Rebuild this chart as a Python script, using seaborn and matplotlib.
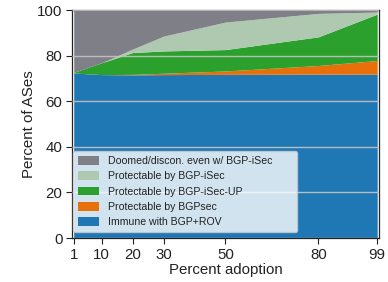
import matplotlib
matplotlib.use("Agg")
import matplotlib.pyplot as plt
import seaborn as sns

# percent adoption
adoption = [1, 10, 20, 30, 50, 80, 99]
xtick_labels = ["1", "10", "20", "30", "50", "80", "99"]

# stacked layers (percent of ASes), bottom to top
immune = [72.5, 71.8, 71.7, 71.8, 71.9, 72.0, 72.0]
bgpsec = [0.0, 0.0, 0.2, 0.6, 1.5, 3.8, 6.0]
isec_up = [0.3, 5.2, 9.6, 9.8, 9.4, 12.6, 20.4]
isec = [0.0, 0.0, 1.5, 6.5, 12.1, 10.3, 0.9]
doomed = [27.2, 23.0, 17.0, 11.3, 5.1, 1.3, 0.7]

labels = ["Immune with BGP+ROV", "Protectable by BGPsec", "Protectable by BGP-iSec-UP",
          "Protectable by BGP-iSec", "Doomed/discon. even w/ BGP-iSec"]
colors = ["#1f77b4", "#e8700a", "#2ca02c", "#afc8b0", "#7f7f88"]

sns.set_theme(style="ticks")
plt.rcParams["font.family"] = ["Liberation Sans", "DejaVu Sans"]

fig, ax = plt.subplots(figsize=(3.88, 2.82), dpi=100)
fig.subplots_adjust(left=0.186, right=0.977, top=0.963, bottom=0.156)

ax.stackplot(adoption, immune, bgpsec, isec_up, isec, doomed,
             labels=labels, colors=colors, linewidth=0)

ax.set_xlim(0.5, 99.6)
ax.set_ylim(0, 100)
ax.set_xticks(adoption)
ax.set_xticklabels(xtick_labels)
ax.set_yticks([0, 20, 40, 60, 80, 100])
ax.tick_params(labelsize=10.8, length=4, width=0.8, pad=3, colors="#222222")
ax.set_axisbelow(False)
ax.yaxis.grid(True, color="#c4c4c4", linewidth=1.0, alpha=0.9)
for s in ax.spines.values():
    s.set_linewidth(0.9)
    s.set_color("#222222")

ax.set_xlabel("Percent adoption", fontsize=10.8, labelpad=1, color="#222222")
ax.set_ylabel("Percent of ASes", fontsize=10.8, labelpad=1, color="#222222")

handles, labs = ax.get_legend_handles_labels()
leg = ax.legend(handles[::-1], labs[::-1], loc="lower left", fontsize=7.6,
                bbox_to_anchor=(0.004, 0.026, 0.728, 0.3), mode="expand",
                frameon=True, fancybox=True, framealpha=0.8, borderaxespad=0,
                handlelength=2.0, handleheight=0.9, labelspacing=0.5,
                borderpad=0.45, handletextpad=0.85)
leg.get_frame().set_facecolor("white")
leg.get_frame().set_edgecolor("#cccccc")
for t in leg.get_texts():
    t.set_color("#222222")

fig.savefig("out.png", dpi=100)
